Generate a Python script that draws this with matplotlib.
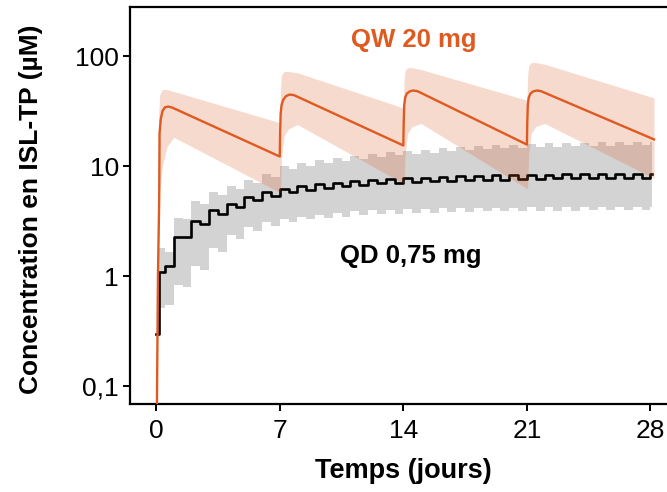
import numpy as np
import matplotlib
matplotlib.use("Agg")
import matplotlib.pyplot as plt
from matplotlib.ticker import FixedLocator, FixedFormatter, NullLocator

plt.rcParams['font.family'] = ['Liberation Sans', 'DejaVu Sans']

# ---------------- data ----------------
# QW 20 mg : median concentration (µM)
qw_t = [0.00, 0.10, 0.17, 0.19, 0.26, 0.36, 0.50, 0.68, 0.90,
        7.00, 7.02, 7.05, 7.10, 7.20, 7.35, 7.55, 7.80,
        14.00, 14.02, 14.05, 14.10, 14.20, 14.35, 14.55, 14.80,
        21.00, 21.02, 21.05, 21.10, 21.20, 21.35, 21.55, 21.80, 28.20]
qw_med = [0.01, 1.0, 5.0, 20.0, 27.0, 32.0, 34.5, 35.0, 34.3,
          12.3, 20.0, 30.0, 36.0, 40.5, 43.5, 45.0, 44.5,
          15.5, 25.0, 36.0, 42.0, 46.0, 48.0, 49.0, 48.3,
          15.8, 25.0, 36.0, 42.0, 46.0, 48.0, 49.0, 48.3, 17.6]

# QW 20 mg : prediction band
qw_band_t = [0.12, 0.14, 0.20, 0.35, 0.60, 1.00, 7.00, 7.04, 7.10, 7.25, 7.50, 8.00,
             14.00, 14.04, 14.10, 14.25, 14.50, 15.00, 21.00, 21.04, 21.10, 21.25, 21.50, 22.00, 28.20]
qw_upper = [8.0, 30.0, 45.0, 50.0, 50.0, 48.0, 25.0, 50.0, 68.0, 73.0, 73.0, 71.0,
            34.0, 60.0, 75.0, 79.0, 79.0, 76.0, 40.0, 66.0, 82.0, 88.0, 88.0, 85.0, 42.0]
qw_lower = [3.0, 4.0, 6.0, 10.0, 15.0, 18.4, 5.8, 5.8, 12.0, 19.0, 22.0, 24.0,
            7.0, 7.0, 13.0, 20.0, 23.0, 24.6, 6.3, 6.3, 13.0, 20.0, 23.0, 24.6, 7.8]

# QD 0,75 mg : step profile (half-day resolution)
qd_t = [0.00, 0.17, 0.50] + list(np.arange(1.0, 28.01, 0.5)) + [28.10]
qd_med = [0.30, 1.10, 1.25,
          2.30, 2.30, 3.20, 3.00, 4.00, 3.70, 4.60, 4.30, 5.30, 4.90, 5.80, 5.40,
          6.20, 5.80, 6.60, 6.10, 6.90, 6.40, 7.10, 6.60, 7.30, 6.80, 7.50, 7.00,
          7.70, 7.10, 7.80, 7.20, 7.90, 7.30, 8.00, 7.40, 8.10, 7.50, 8.20, 7.60,
          8.30, 7.60, 8.30, 7.70, 8.40, 7.70, 8.40, 7.80, 8.50, 7.80, 8.50, 7.80,
          8.50, 7.90, 8.60, 7.90, 8.60, 7.90, 8.60, 8.60]
qd_upper = [np.nan, 1.83, 1.65,
            3.40, 3.30, 4.80, 4.60, 5.90, 5.50, 6.60, 6.20, 7.60, 7.10, 8.60, 8.00,
            10.0, 9.40, 10.8, 10.1, 11.4, 10.7, 11.9, 11.2, 12.5, 11.8, 13.0, 12.2,
            13.4, 12.6, 13.8, 13.0, 14.2, 13.3, 14.6, 13.7, 15.0, 14.0, 15.4, 14.3,
            15.6, 14.6, 15.8, 14.8, 16.0, 15.0, 16.2, 15.1, 16.3, 15.2, 16.4, 15.3,
            16.5, 15.4, 16.6, 15.5, 16.7, 15.5, 16.8, 16.8]
qd_lower = [np.nan, 0.52, 0.55,
            0.83, 0.80, 1.25, 1.15, 1.80, 1.65, 2.40, 2.20, 2.80, 2.60, 3.10, 2.90,
            3.30, 3.10, 3.50, 3.30, 3.60, 3.40, 3.80, 3.50, 3.90, 3.60, 4.00, 3.70,
            4.00, 3.70, 4.10, 3.80, 4.10, 3.80, 4.15, 3.85, 4.15, 3.85, 4.20, 3.90,
            4.20, 3.90, 4.20, 3.90, 4.25, 3.95, 4.25, 3.95, 4.25, 3.95, 4.30, 4.00,
            4.30, 4.00, 4.30, 4.00, 4.30, 4.00, 4.30, 4.30]

x_ticks = [0, 7, 14, 21, 28]
y_ticks = [0.1, 1, 10, 100]
y_tick_labels = ['0,1', '1', '10', '100']

orange = '#DF5A20'
gray = '#D3D3D3'

# ---------------- plot ----------------
fig = plt.figure(figsize=(6.67, 4.92), dpi=100)
ax = fig.add_axes([0.195, 0.179, 0.812, 0.807])
ax.set_yscale('log')

qd_t_arr = np.array(qd_t)
ax.fill_between(qd_t_arr[1:], np.array(qd_lower[1:]), np.array(qd_upper[1:]),
                step='post', color=gray, linewidth=0, zorder=1)
ax.step(qd_t, qd_med, where='post', color='black', linewidth=1.9, zorder=2)

ax.fill_between(qw_band_t, qw_lower, qw_upper, color=orange, alpha=0.22,
                linewidth=0, zorder=3)
ax.plot(qw_t, qw_med, color=orange, linewidth=1.7, zorder=4)

ax.text(14.6, 141, 'QW 20 mg', color=orange, fontsize=18.5, fontweight='bold',
        ha='center', va='center')
ax.text(14.4, 1.54, 'QD 0,75 mg', color='black', fontsize=18.5, fontweight='bold',
        ha='center', va='center')

ax.set_xlim(-1.48, 29.2)
ax.set_ylim(0.0693, 282)

ax.xaxis.set_major_locator(FixedLocator(x_ticks))
ax.yaxis.set_major_locator(FixedLocator(y_ticks))
ax.yaxis.set_major_formatter(FixedFormatter(y_tick_labels))
ax.yaxis.set_minor_locator(NullLocator())

for s in ['left', 'bottom', 'top']:
    ax.spines[s].set_linewidth(1.6)
ax.spines['right'].set_visible(False)
ax.tick_params(axis='both', which='major', direction='out', length=5, width=1.4,
               labelsize=19)
ax.tick_params(axis='x', pad=6)
ax.tick_params(axis='y', pad=3)

ax.set_xlabel('Temps (jours)', fontsize=19.5, fontweight='bold')
ax.set_ylabel('Concentration en ISL-TP (µM)', fontsize=19, fontweight='bold')
ax.xaxis.set_label_coords(0.504, -0.135)
ax.yaxis.set_label_coords(-0.16, 0.49)

fig.savefig('out.png', dpi=100)
